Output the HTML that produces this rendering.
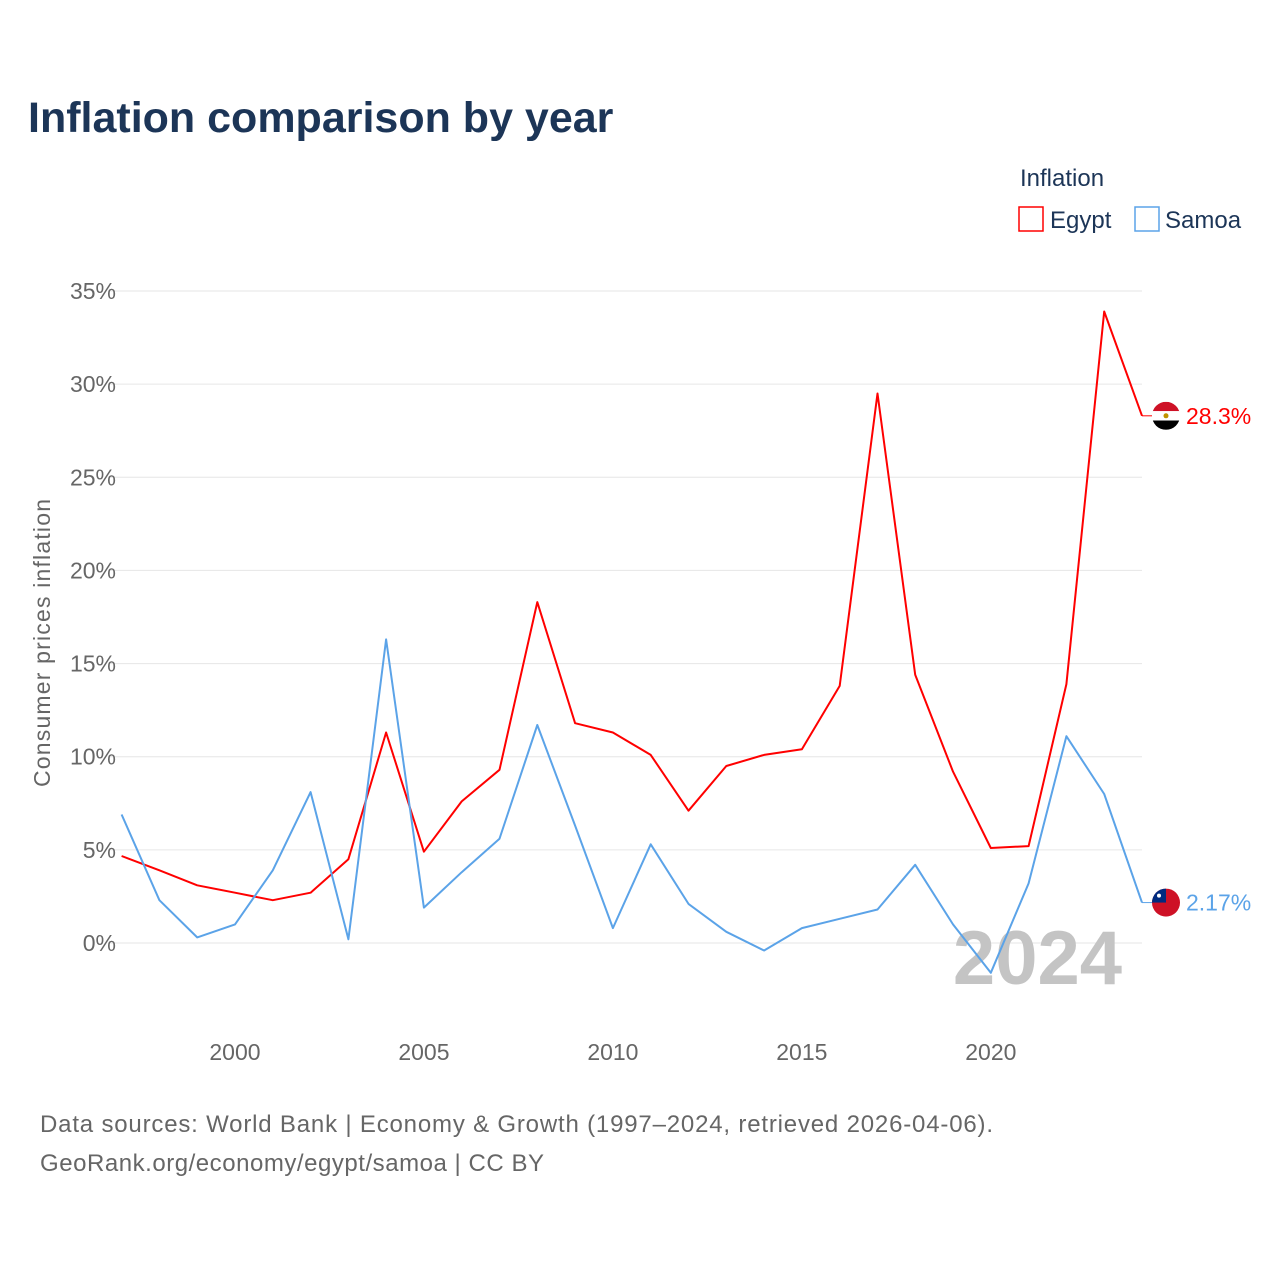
<!DOCTYPE html>
<html><head><meta charset="utf-8">
<style>
body{margin:0;background:#fff;font-family:"Liberation Sans",sans-serif;}
svg{display:block}
</style></head>
<body>
<svg id="chart" width="1280" height="1280" viewBox="0 0 1280 1280" font-family="Liberation Sans, sans-serif">
<text x="28" y="132" font-size="43" font-weight="bold" fill="#1c3557">Inflation comparison by year</text>
<text x="1020" y="186" font-size="24" fill="#1c3557">Inflation</text>
<g>
<rect x="1019" y="207" width="24" height="24" fill="none" stroke="#ff0000" stroke-width="1.5"/>
<text x="1050" y="228" font-size="24" fill="#1c3557">Egypt</text></g>
<g>
<rect x="1135" y="207" width="24" height="24" fill="none" stroke="#5ba3e8" stroke-width="1.5"/>
<text x="1165" y="228" font-size="24" fill="#1c3557">Samoa</text></g>
<text transform="translate(50,643) rotate(-90)" text-anchor="middle" font-size="23" fill="#666" textLength="288">Consumer prices inflation</text>
<g id="grid"></g>
<text x="1122" y="984" text-anchor="end" font-size="76" font-weight="bold" fill="#c4c4c4">2024</text>
<g id="series"></g>
<text x="40" y="1132" font-size="24" fill="#666" textLength="953">Data sources: World Bank | Economy &amp; Growth (1997–2024, retrieved 2026-04-06).</text>
<text x="40" y="1171" font-size="24" fill="#666" textLength="504">GeoRank.org/economy/egypt/samoa | CC BY</text>
</svg>
<script>
const years=[1997,1998,1999,2000,2001,2002,2003,2004,2005,2006,2007,2008,2009,2010,2011,2012,2013,2014,2015,2016,2017,2018,2019,2020,2021,2022,2023,2024];
const egypt=[4.67,3.9,3.1,2.7,2.3,2.7,4.5,11.3,4.9,7.6,9.3,18.3,11.8,11.3,10.1,7.1,9.5,10.1,10.4,13.8,29.5,14.4,9.2,5.1,5.2,13.9,33.9,28.3];
const samoa=[6.9,2.3,0.3,1.0,3.9,8.1,0.2,16.3,1.9,3.8,5.6,11.7,6.3,0.8,5.3,2.1,0.6,-0.4,0.8,1.3,1.8,4.2,1.0,-1.6,3.2,11.1,8.0,2.17];
const yTicks=[0,5,10,15,20,25,30,35];
const xTicks=[2000,2005,2010,2015,2020];
const NS="http://www.w3.org/2000/svg";
function xs(y){return 121.6+(y-1997)*(1142-121.6)/27;}
function ys(v){return 943-v*(943-291)/35;}
function mk(tag,attrs,parent){const e=document.createElementNS(NS,tag);for(const k in attrs)e.setAttribute(k,attrs[k]);parent.appendChild(e);return e;}
const grid=document.getElementById('grid');
yTicks.forEach(t=>{
 const l=mk('line',{x1:110,x2:1142,y1:ys(t),y2:ys(t),stroke:'#e6e6e6','stroke-width':1},grid);
 
 
 const tx=mk('text',{x:116,y:ys(t)+8,'text-anchor':'end','font-size':23,fill:'#666'},grid);
 tx.textContent=t+'%';
 
 
});
xTicks.forEach(t=>{
 const tx=mk('text',{x:xs(t),y:1060,'text-anchor':'middle','font-size':23,fill:'#666'},grid);
 tx.textContent=t;
 
 
});
const sg=document.getElementById('series');
function series(vals,color,name,label,flag){
 const d=vals.map((v,i)=>(i?'L':'M')+xs(years[i]).toFixed(1)+','+ys(v).toFixed(1)).join(' ');
 const p=mk('path',{d:d,fill:'none',stroke:color,'stroke-width':2,'stroke-linejoin':'round'},sg);
 
 
 const last=vals[vals.length-1],y=ys(last);
 mk('line',{x1:1142,x2:1152,y1:y,y2:y,stroke:color,'stroke-width':1},sg);
 const g=mk('g',{},sg);
 
 
 flag(g,1166,y);
 const t=mk('text',{x:1186,y:y+8,'font-size':23,fill:color},sg);
 t.textContent=label;
 
 
}
series(egypt,'#ff0000','egypt','28.3%',(g,cx,cy)=>{
 const c='clipE';const cp=mk('clipPath',{id:c},g);mk('circle',{cx:cx,cy:cy,r:14},cp);
 mk('rect',{x:cx-14,y:cy-14,width:28,height:9.4,fill:'#ce1126','clip-path':'url(#'+c+')'},g);
 mk('rect',{x:cx-14,y:cy-4.7,width:28,height:9.4,fill:'#fff','clip-path':'url(#'+c+')'},g);
 mk('rect',{x:cx-14,y:cy+4.7,width:28,height:9.4,fill:'#000','clip-path':'url(#'+c+')'},g);
 mk('circle',{cx:cx,cy:cy,r:2.5,fill:'#c09300'},g);
});
series(samoa,'#5ba3e8','samoa','2.17%',(g,cx,cy)=>{
 const c='clipS';const cp=mk('clipPath',{id:c},g);mk('circle',{cx:cx,cy:cy,r:14},cp);
 mk('rect',{x:cx-14,y:cy-14,width:28,height:28,fill:'#ce1126','clip-path':'url(#'+c+')'},g);
 mk('rect',{x:cx-14,y:cy-14,width:14,height:14,fill:'#002b7f','clip-path':'url(#'+c+')'},g);
 mk('circle',{cx:cx-7,cy:cy-7,r:2,fill:'#fff'},g);
});
</script>
</body></html>
